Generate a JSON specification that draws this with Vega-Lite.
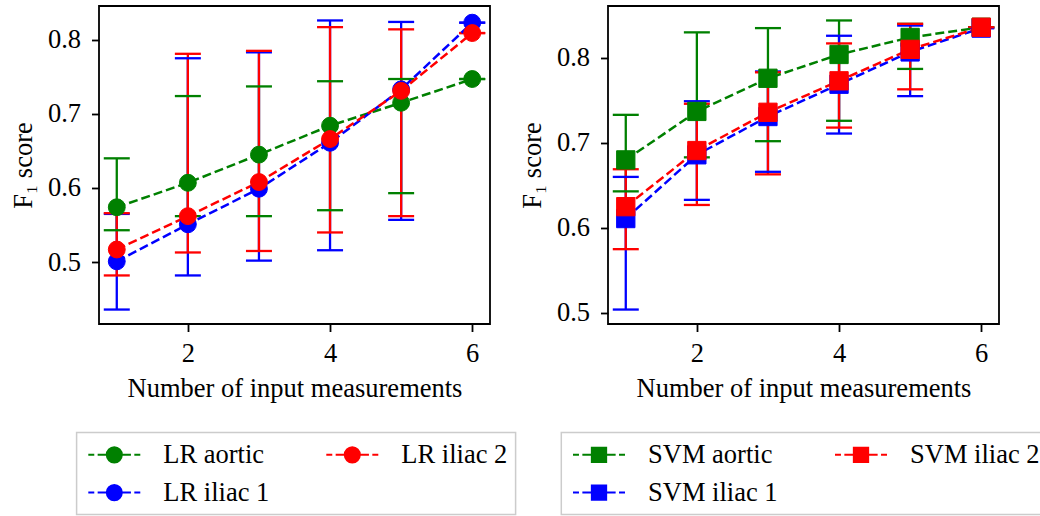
{
  "$schema": "https://vega.github.io/schema/vega-lite/v6.json",
  "padding": {"left": 9, "top": 5, "right": 0, "bottom": 0},
  "background": "white",
  "config": {
    "font": "Liberation Serif",
    "view": {"stroke": "black", "strokeWidth": 1.8},
    "axis": {"labelFont": "Liberation Serif", "titleFont": "Liberation Serif", "labelFontSize": 26.5, "titleFontSize": 26.5, "titleFontWeight": "normal", "labelColor": "black", "titleColor": "black", "tickColor": "black", "tickWidth": 1.8, "tickSize": 7.5, "grid": false, "domain": false},
    "legend": {"labelFont": "Liberation Serif", "labelFontSize": 26.5, "labelColor": "black", "title": null, "columns": 2, "orient": "none", "symbolSize": 676, "symbolStrokeWidth": 2, "symbolOffset": 15.7, "symbolOpacity": 1, "labelOffset": 35, "columnPadding": 52, "rowPadding": 10, "padding": 8, "strokeColor": "#cccccc", "strokeWidth": 1.5, "fillColor": "white", "cornerRadius": 0, "legendY": 426.6}
  },
  "datasets": {
    "lr": [
      {"series": "LR aortic", "n": 1, "mean": 0.574, "lo": 0.543, "hi": 0.640},
      {"series": "LR aortic", "n": 2, "mean": 0.607, "lo": 0.562, "hi": 0.724},
      {"series": "LR aortic", "n": 3, "mean": 0.645, "lo": 0.562, "hi": 0.737},
      {"series": "LR aortic", "n": 4, "mean": 0.684, "lo": 0.570, "hi": 0.744},
      {"series": "LR aortic", "n": 5, "mean": 0.715, "lo": 0.593, "hi": 0.747},
      {"series": "LR aortic", "n": 6, "mean": 0.747, "lo": 0.747, "hi": 0.747},
      {"series": "LR iliac 1", "n": 1, "mean": 0.501, "lo": 0.436, "hi": 0.565},
      {"series": "LR iliac 1", "n": 2, "mean": 0.551, "lo": 0.482, "hi": 0.775},
      {"series": "LR iliac 1", "n": 3, "mean": 0.599, "lo": 0.502, "hi": 0.783},
      {"series": "LR iliac 1", "n": 4, "mean": 0.661, "lo": 0.516, "hi": 0.826},
      {"series": "LR iliac 1", "n": 5, "mean": 0.733, "lo": 0.557, "hi": 0.824},
      {"series": "LR iliac 1", "n": 6, "mean": 0.823, "lo": 0.823, "hi": 0.823},
      {"series": "LR iliac 2", "n": 1, "mean": 0.517, "lo": 0.482, "hi": 0.566},
      {"series": "LR iliac 2", "n": 2, "mean": 0.562, "lo": 0.513, "hi": 0.781},
      {"series": "LR iliac 2", "n": 3, "mean": 0.608, "lo": 0.515, "hi": 0.785},
      {"series": "LR iliac 2", "n": 4, "mean": 0.666, "lo": 0.540, "hi": 0.817},
      {"series": "LR iliac 2", "n": 5, "mean": 0.731, "lo": 0.562, "hi": 0.814},
      {"series": "LR iliac 2", "n": 6, "mean": 0.809, "lo": 0.809, "hi": 0.809}
    ],
    "svm": [
      {"series": "SVM aortic", "n": 1, "mean": 0.680, "lo": 0.643, "hi": 0.733},
      {"series": "SVM aortic", "n": 2, "mean": 0.737, "lo": 0.683, "hi": 0.830},
      {"series": "SVM aortic", "n": 3, "mean": 0.776, "lo": 0.702, "hi": 0.835},
      {"series": "SVM aortic", "n": 4, "mean": 0.804, "lo": 0.726, "hi": 0.844},
      {"series": "SVM aortic", "n": 5, "mean": 0.824, "lo": 0.787, "hi": 0.840},
      {"series": "SVM aortic", "n": 6, "mean": 0.836, "lo": 0.836, "hi": 0.836},
      {"series": "SVM iliac 1", "n": 1, "mean": 0.611, "lo": 0.504, "hi": 0.660},
      {"series": "SVM iliac 1", "n": 2, "mean": 0.686, "lo": 0.633, "hi": 0.749},
      {"series": "SVM iliac 1", "n": 3, "mean": 0.731, "lo": 0.666, "hi": 0.784},
      {"series": "SVM iliac 1", "n": 4, "mean": 0.769, "lo": 0.711, "hi": 0.826},
      {"series": "SVM iliac 1", "n": 5, "mean": 0.807, "lo": 0.755, "hi": 0.838},
      {"series": "SVM iliac 1", "n": 6, "mean": 0.835, "lo": 0.835, "hi": 0.835},
      {"series": "SVM iliac 2", "n": 1, "mean": 0.625, "lo": 0.575, "hi": 0.669},
      {"series": "SVM iliac 2", "n": 2, "mean": 0.691, "lo": 0.627, "hi": 0.746},
      {"series": "SVM iliac 2", "n": 3, "mean": 0.736, "lo": 0.663, "hi": 0.783},
      {"series": "SVM iliac 2", "n": 4, "mean": 0.773, "lo": 0.718, "hi": 0.817},
      {"series": "SVM iliac 2", "n": 5, "mean": 0.810, "lo": 0.763, "hi": 0.840},
      {"series": "SVM iliac 2", "n": 6, "mean": 0.836, "lo": 0.836, "hi": 0.836}
    ]
  },
  "spacing": 0,
  "resolve": {"scale": {"fill": "independent", "stroke": "independent"}, "legend": {"fill": "independent", "stroke": "independent"}},
  "hconcat": [
    {
      "width": 391, "height": 318,
      "data": {"name": "lr"},
      "encoding": {
        "x": {"field": "n", "type": "quantitative", "scale": {"domain": [0.75, 6.25], "nice": false, "zero": false}, "axis": {"values": [2, 4, 6], "format": "d", "title": "Number of input measurements", "labelPadding": 9, "titlePadding": 8}}
      },
      "layer": [
        {
          "mark": {"type": "rule", "strokeWidth": 2.3},
          "encoding": {
            "y": {"field": "lo", "type": "quantitative", "scale": {"domain": [0.4165, 0.8455], "nice": false, "zero": false}, "axis": {"values": [0.5, 0.6, 0.7, 0.8], "format": ".1f", "title": "F₁ score", "labelPadding": 11, "titlePadding": 10}},
            "y2": {"field": "hi"},
            "stroke": {"field": "series", "type": "nominal", "scale": {"domain": ["LR aortic", "LR iliac 1", "LR iliac 2"], "range": ["#008000", "#0000ff", "#ff0000"]}, "legend": {"legendX": -22.4, "values": ["LR aortic", "LR iliac 1", "LR iliac 2"], "symbolType": "M-2,0H-1.54M-1.28,0H-0.6M0.6,0H1.28M1.54,0H2M0.58,0A0.58,0.58,0,1,1,-0.58,0A0.58,0.58,0,1,1,0.58,0Z"}}
          }
        },
        {
          "mark": {"type": "tick", "orient": "horizontal", "size": 26, "thickness": 2.3, "opacity": 1},
          "encoding": {
            "y": {"field": "lo", "type": "quantitative", "scale": {"domain": [0.4165, 0.8455], "nice": false, "zero": false}, "axis": {"values": [0.5, 0.6, 0.7, 0.8], "format": ".1f", "title": "F₁ score", "labelPadding": 11, "titlePadding": 10}},
            "fill": {"field": "series", "type": "nominal", "scale": {"domain": ["LR aortic", "LR iliac 1", "LR iliac 2"], "range": ["#008000", "#0000ff", "#ff0000"]}, "legend": {"legendX": -22.4, "values": ["LR aortic", "LR iliac 1", "LR iliac 2"], "symbolType": "M-2,0H-1.54M-1.28,0H-0.6M0.6,0H1.28M1.54,0H2M0.58,0A0.58,0.58,0,1,1,-0.58,0A0.58,0.58,0,1,1,0.58,0Z"}}
          }
        },
        {
          "mark": {"type": "tick", "orient": "horizontal", "size": 26, "thickness": 2.3, "opacity": 1},
          "encoding": {
            "y": {"field": "hi", "type": "quantitative", "scale": {"domain": [0.4165, 0.8455], "nice": false, "zero": false}, "axis": {"values": [0.5, 0.6, 0.7, 0.8], "format": ".1f", "title": "F₁ score", "labelPadding": 11, "titlePadding": 10}},
            "fill": {"field": "series", "type": "nominal", "scale": {"domain": ["LR aortic", "LR iliac 1", "LR iliac 2"], "range": ["#008000", "#0000ff", "#ff0000"]}, "legend": {"legendX": -22.4, "values": ["LR aortic", "LR iliac 1", "LR iliac 2"], "symbolType": "M-2,0H-1.54M-1.28,0H-0.6M0.6,0H1.28M1.54,0H2M0.58,0A0.58,0.58,0,1,1,-0.58,0A0.58,0.58,0,1,1,0.58,0Z"}}
          }
        },
        {
          "mark": {"type": "line", "strokeWidth": 2.5, "strokeDash": [9, 4]},
          "encoding": {
            "y": {"field": "mean", "type": "quantitative", "scale": {"domain": [0.4165, 0.8455], "nice": false, "zero": false}, "axis": {"values": [0.5, 0.6, 0.7, 0.8], "format": ".1f", "title": "F₁ score", "labelPadding": 11, "titlePadding": 10}},
            "stroke": {"field": "series", "type": "nominal", "scale": {"domain": ["LR aortic", "LR iliac 1", "LR iliac 2"], "range": ["#008000", "#0000ff", "#ff0000"]}, "legend": {"legendX": -22.4, "values": ["LR aortic", "LR iliac 1", "LR iliac 2"], "symbolType": "M-2,0H-1.54M-1.28,0H-0.6M0.6,0H1.28M1.54,0H2M0.58,0A0.58,0.58,0,1,1,-0.58,0A0.58,0.58,0,1,1,0.58,0Z"}}
          }
        },
        {
          "mark": {"type": "point", "shape": "circle", "size": 285, "filled": true, "opacity": 1, "strokeWidth": 1},
          "encoding": {
            "y": {"field": "mean", "type": "quantitative", "scale": {"domain": [0.4165, 0.8455], "nice": false, "zero": false}, "axis": {"values": [0.5, 0.6, 0.7, 0.8], "format": ".1f", "title": "F₁ score", "labelPadding": 11, "titlePadding": 10}},
            "fill": {"field": "series", "type": "nominal", "scale": {"domain": ["LR aortic", "LR iliac 1", "LR iliac 2"], "range": ["#008000", "#0000ff", "#ff0000"]}, "legend": {"legendX": -22.4, "values": ["LR aortic", "LR iliac 1", "LR iliac 2"], "symbolType": "M-2,0H-1.54M-1.28,0H-0.6M0.6,0H1.28M1.54,0H2M0.58,0A0.58,0.58,0,1,1,-0.58,0A0.58,0.58,0,1,1,0.58,0Z"}},
            "stroke": {"field": "series", "type": "nominal", "scale": {"domain": ["LR aortic", "LR iliac 1", "LR iliac 2"], "range": ["#008000", "#0000ff", "#ff0000"]}, "legend": {"legendX": -22.4, "values": ["LR aortic", "LR iliac 1", "LR iliac 2"], "symbolType": "M-2,0H-1.54M-1.28,0H-0.6M0.6,0H1.28M1.54,0H2M0.58,0A0.58,0.58,0,1,1,-0.58,0A0.58,0.58,0,1,1,0.58,0Z"}}
          }
        }
      ]
    },
    {
      "width": 391, "height": 318,
      "data": {"name": "svm"},
      "encoding": {
        "x": {"field": "n", "type": "quantitative", "scale": {"domain": [0.75, 6.25], "nice": false, "zero": false}, "axis": {"values": [2, 4, 6], "format": "d", "title": "Number of input measurements", "labelPadding": 9, "titlePadding": 8}}
      },
      "layer": [
        {
          "mark": {"type": "rule", "strokeWidth": 2.3},
          "encoding": {
            "y": {"field": "lo", "type": "quantitative", "scale": {"domain": [0.487, 0.861], "nice": false, "zero": false}, "axis": {"values": [0.5, 0.6, 0.7, 0.8], "format": ".1f", "title": "F₁ score", "labelPadding": 11, "titlePadding": 10}},
            "y2": {"field": "hi"},
            "stroke": {"field": "series", "type": "nominal", "scale": {"domain": ["SVM aortic", "SVM iliac 1", "SVM iliac 2"], "range": ["#008000", "#0000ff", "#ff0000"]}, "legend": {"legendX": -46.7, "values": ["SVM aortic", "SVM iliac 1", "SVM iliac 2"], "symbolType": "M-2,0H-1.54M-1.28,0H-0.6M0.6,0H1.28M1.54,0H2M-0.55,-0.55H0.55V0.55H-0.55Z"}}
          }
        },
        {
          "mark": {"type": "tick", "orient": "horizontal", "size": 26, "thickness": 2.3, "opacity": 1},
          "encoding": {
            "y": {"field": "lo", "type": "quantitative", "scale": {"domain": [0.487, 0.861], "nice": false, "zero": false}, "axis": {"values": [0.5, 0.6, 0.7, 0.8], "format": ".1f", "title": "F₁ score", "labelPadding": 11, "titlePadding": 10}},
            "fill": {"field": "series", "type": "nominal", "scale": {"domain": ["SVM aortic", "SVM iliac 1", "SVM iliac 2"], "range": ["#008000", "#0000ff", "#ff0000"]}, "legend": {"legendX": -46.7, "values": ["SVM aortic", "SVM iliac 1", "SVM iliac 2"], "symbolType": "M-2,0H-1.54M-1.28,0H-0.6M0.6,0H1.28M1.54,0H2M-0.55,-0.55H0.55V0.55H-0.55Z"}}
          }
        },
        {
          "mark": {"type": "tick", "orient": "horizontal", "size": 26, "thickness": 2.3, "opacity": 1},
          "encoding": {
            "y": {"field": "hi", "type": "quantitative", "scale": {"domain": [0.487, 0.861], "nice": false, "zero": false}, "axis": {"values": [0.5, 0.6, 0.7, 0.8], "format": ".1f", "title": "F₁ score", "labelPadding": 11, "titlePadding": 10}},
            "fill": {"field": "series", "type": "nominal", "scale": {"domain": ["SVM aortic", "SVM iliac 1", "SVM iliac 2"], "range": ["#008000", "#0000ff", "#ff0000"]}, "legend": {"legendX": -46.7, "values": ["SVM aortic", "SVM iliac 1", "SVM iliac 2"], "symbolType": "M-2,0H-1.54M-1.28,0H-0.6M0.6,0H1.28M1.54,0H2M-0.55,-0.55H0.55V0.55H-0.55Z"}}
          }
        },
        {
          "mark": {"type": "line", "strokeWidth": 2.5, "strokeDash": [9, 4]},
          "encoding": {
            "y": {"field": "mean", "type": "quantitative", "scale": {"domain": [0.487, 0.861], "nice": false, "zero": false}, "axis": {"values": [0.5, 0.6, 0.7, 0.8], "format": ".1f", "title": "F₁ score", "labelPadding": 11, "titlePadding": 10}},
            "stroke": {"field": "series", "type": "nominal", "scale": {"domain": ["SVM aortic", "SVM iliac 1", "SVM iliac 2"], "range": ["#008000", "#0000ff", "#ff0000"]}, "legend": {"legendX": -46.7, "values": ["SVM aortic", "SVM iliac 1", "SVM iliac 2"], "symbolType": "M-2,0H-1.54M-1.28,0H-0.6M0.6,0H1.28M1.54,0H2M-0.55,-0.55H0.55V0.55H-0.55Z"}}
          }
        },
        {
          "mark": {"type": "point", "shape": "square", "size": 335, "filled": true, "opacity": 1, "strokeWidth": 1},
          "encoding": {
            "y": {"field": "mean", "type": "quantitative", "scale": {"domain": [0.487, 0.861], "nice": false, "zero": false}, "axis": {"values": [0.5, 0.6, 0.7, 0.8], "format": ".1f", "title": "F₁ score", "labelPadding": 11, "titlePadding": 10}},
            "fill": {"field": "series", "type": "nominal", "scale": {"domain": ["SVM aortic", "SVM iliac 1", "SVM iliac 2"], "range": ["#008000", "#0000ff", "#ff0000"]}, "legend": {"legendX": -46.7, "values": ["SVM aortic", "SVM iliac 1", "SVM iliac 2"], "symbolType": "M-2,0H-1.54M-1.28,0H-0.6M0.6,0H1.28M1.54,0H2M-0.55,-0.55H0.55V0.55H-0.55Z"}},
            "stroke": {"field": "series", "type": "nominal", "scale": {"domain": ["SVM aortic", "SVM iliac 1", "SVM iliac 2"], "range": ["#008000", "#0000ff", "#ff0000"]}, "legend": {"legendX": -46.7, "values": ["SVM aortic", "SVM iliac 1", "SVM iliac 2"], "symbolType": "M-2,0H-1.54M-1.28,0H-0.6M0.6,0H1.28M1.54,0H2M-0.55,-0.55H0.55V0.55H-0.55Z"}}
          }
        }
      ]
    }
  ]
}
